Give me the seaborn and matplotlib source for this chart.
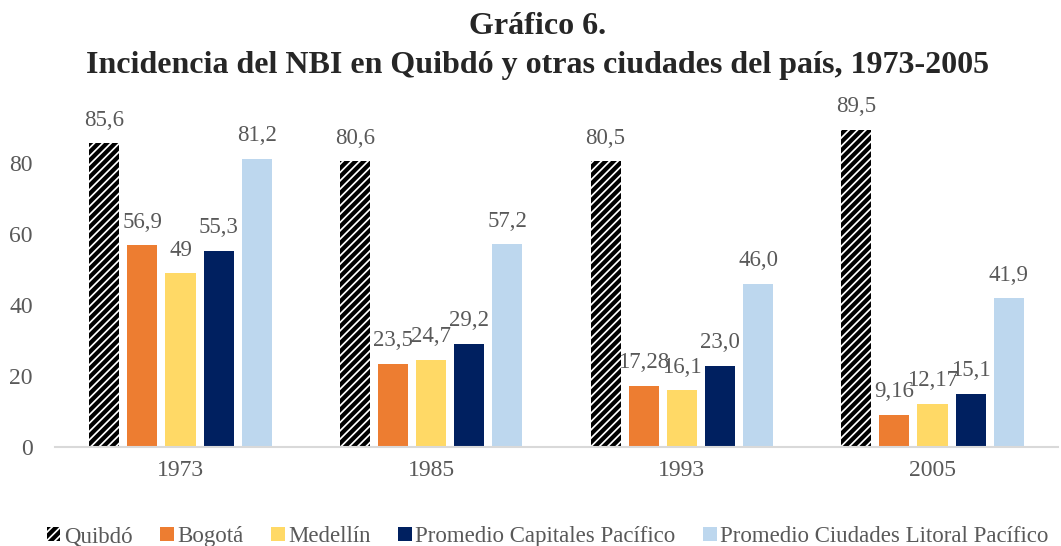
import pandas as pd
import matplotlib
matplotlib.use("Agg")
import matplotlib.pyplot as plt
import matplotlib.patches as mpatches
import seaborn as sns

years = ["1973", "1985", "1993", "2005"]
series = ["Quibdó", "Bogotá", "Medellín", "Promedio Capitales Pacífico",
          "Promedio Ciudades Litoral Pacífico"]
quibdo = [85.6, 80.6, 80.5, 89.5]
bogota = [56.9, 23.5, 17.28, 9.16]
medellin = [49, 24.7, 16.1, 12.17]
capitales = [55.3, 29.2, 23.0, 15.1]
litoral = [81.2, 57.2, 46.0, 41.9]
labels = {
    "Quibdó": ["85,6", "80,6", "80,5", "89,5"],
    "Bogotá": ["56,9", "23,5", "17,28", "9,16"],
    "Medellín": ["49", "24,7", "16,1", "12,17"],
    "Promedio Capitales Pacífico": ["55,3", "29,2", "23,0", "15,1"],
    "Promedio Ciudades Litoral Pacífico": ["81,2", "57,2", "46,0", "41,9"],
}
colors = ["#FFFFFF", "#ED7D31", "#FFD966", "#002060", "#BDD7EE"]

rows = []
for name, vals in zip(series, [quibdo, bogota, medellin, capitales, litoral]):
    for y, v in zip(years, vals):
        rows.append({"year": y, "serie": name, "valor": v})
df = pd.DataFrame(rows)

sns.set_style("white")
plt.rcParams['font.family'] = ['Liberation Serif', 'DejaVu Serif']
plt.rcParams['hatch.linewidth'] = 3.0
plt.rcParams['hatch.color'] = 'black'

fig = plt.figure(figsize=(10.61, 5.46), dpi=100)
ax = fig.add_axes([0.052, 0.181, 0.945, 0.65])

sns.barplot(data=df, x="year", y="valor", hue="serie", hue_order=series,
            palette=colors, width=0.76, gap=0.21, ax=ax, legend=False,
            saturation=1, edgecolor="none", linewidth=0)

for bar in ax.containers[0]:
    bar.set_facecolor("white")
    bar.set_edgecolor("black")
    bar.set_hatch("////")
    bar.set_linewidth(0)

gray = "#595959"
for cont, name in zip(ax.containers, series):
    for bar, txt in zip(cont, labels[name]):
        ax.annotate(txt, (bar.get_x() + bar.get_width() / 2, bar.get_height()),
                    xytext=(0, 9), textcoords="offset points",
                    ha="center", va="bottom", fontsize=16.5, color=gray)

ax.set_ylim(0, 100)
ax.set_xlim(-0.5, 3.5)
ax.set_yticks([0, 20, 40, 60, 80])
ax.set_xlabel("")
ax.set_ylabel("")
ax.tick_params(axis="both", length=0, labelsize=17, labelcolor=gray)
ax.tick_params(axis="y", pad=16)
ax.tick_params(axis="x", pad=9)
for s in ["top", "right", "left"]:
    ax.spines[s].set_visible(False)
ax.spines["bottom"].set_color("#D9D9D9")
ax.spines["bottom"].set_linewidth(1.5)

handles = [mpatches.Patch(facecolor="white", edgecolor="black", hatch="////", linewidth=0)]
handles += [mpatches.Patch(facecolor=c, linewidth=0) for c in colors[1:]]
fig.legend(handles, series, loc="lower center", bbox_to_anchor=(0.516, -0.04),
           ncol=5, frameon=False, fontsize=16.5, labelcolor=gray,
           handlelength=0.6, handleheight=0.6, handletextpad=0.15,
           columnspacing=1.2)

fig.suptitle("Gráfico 6.\nIncidencia del NBI en Quibdó y otras ciudades del país, 1973-2005",
             x=0.507, y=0.978, fontsize=23, fontweight="bold", linespacing=1.45)

fig.savefig("out.png", dpi=100)
